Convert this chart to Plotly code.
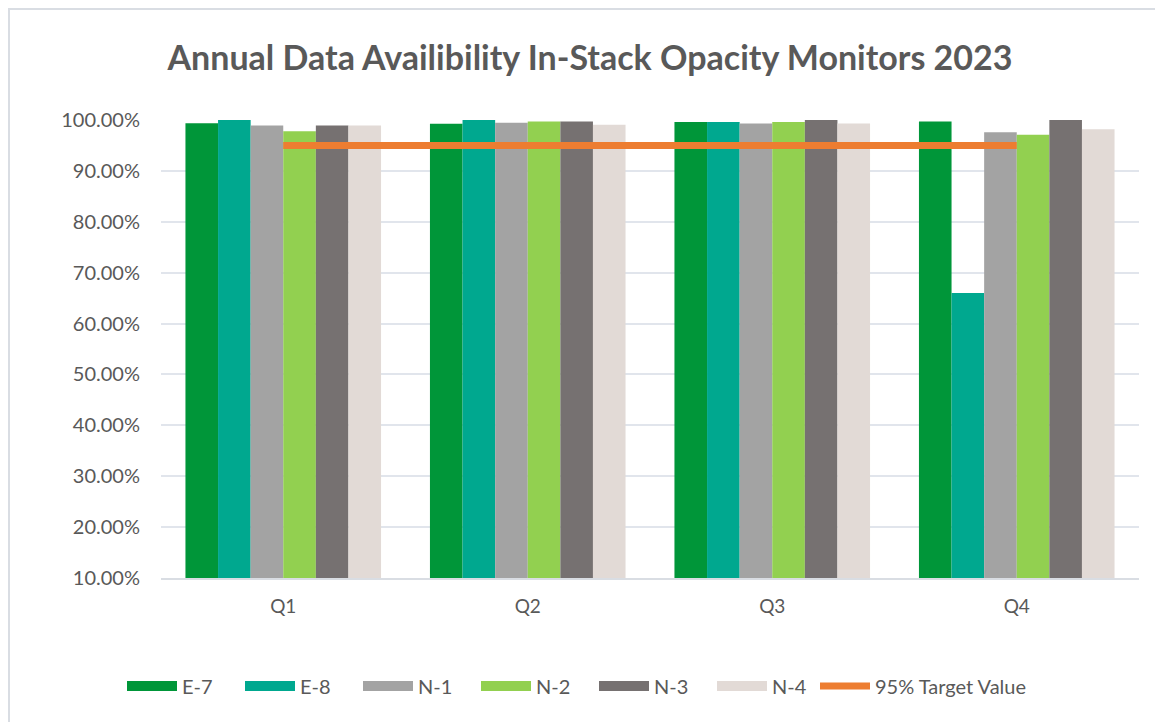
import plotly.graph_objects as go

quarters = ["Q1", "Q2", "Q3", "Q4"]
series_names = ["E-7", "E-8", "N-1", "N-2", "N-3", "N-4"]
e7 = [0.9935, 0.9925, 0.9960, 0.9970]
e8 = [1.0000, 1.0000, 0.9960, 0.6600]
n1 = [0.9890, 0.9945, 0.9930, 0.9760]
n2 = [0.9780, 0.9970, 0.9960, 0.9710]
n3 = [0.9890, 0.9970, 1.0000, 1.0000]
n4 = [0.9890, 0.9905, 0.9930, 0.9820]
target = [0.95, 0.95, 0.95, 0.95]
target_name = "95% Target Value"
y_ticks = [0.1, 0.2, 0.3, 0.4, 0.5, 0.6, 0.7, 0.8, 0.9, 1.0]

colors = ["#009639", "#00A88F", "#A3A3A3", "#92D050", "#767171", "#E2DAD6"]
values = [e7, e8, n1, n2, n3, n4]

fig = go.Figure()
for name, vals, col in zip(series_names, values, colors):
    fig.add_trace(go.Bar(
        x=quarters, y=vals, name=name, showlegend=False, legendgroup=name,
        marker=dict(color=col, line=dict(width=0)),
        hovertemplate="%{x}: %{y:.2%}<extra>" + name + "</extra>",
    ))

fig.add_trace(go.Scatter(
    x=quarters, y=target, name=target_name, mode="lines", showlegend=False,
    legendgroup="target",
    line=dict(color="#ED7D31", width=7),
))

# legend entries (rectangular swatches)
for name, col in zip(series_names, colors):
    fig.add_trace(go.Scatter(
        x=[None], y=[None], mode="lines", name=name, legendgroup=name,
        line=dict(color=col, width=14), legend="legend",
    ))
fig.add_trace(go.Scatter(
    x=[None], y=[None], mode="lines", name=target_name, legendgroup="target",
    line=dict(color="#ED7D31", width=7), legend="legend2",
))

font_family = "Lato, 'Open Sans', sans-serif"
legend_common = dict(
    orientation="h", xanchor="left", xref="container",
    y=1 - 678 / 722, yanchor="middle", yref="container",
    font=dict(size=20, color="#595959"),
    traceorder="normal", itemwidth=50,
)
fig.update_layout(
    width=1163, height=722,
    margin=dict(l=153, r=32, t=112, b=152),
    paper_bgcolor="white", plot_bgcolor="white",
    barmode="group", bargap=0.2, bargroupgap=0,
    title=dict(
        text="<b>Annual Data Availibility In-Stack Opacity Monitors 2023</b>",
        x=582 / 1163, xanchor="center", xref="container",
        y=1 - 50 / 722, yanchor="middle", yref="container",
        font=dict(family=font_family, size=34, color="#595959"),
    ),
    font=dict(family=font_family, color="#595959"),
    legend=dict(legend_common, x=114 / 1163,
                entrywidth=53, entrywidthmode="pixels"),
    legend2=dict(legend_common, x=807 / 1163),
    showlegend=True,
)
fig.update_xaxes(
    showgrid=False, showline=True, linecolor="#D9DDE3", linewidth=2,
    tickfont=dict(size=19, color="#595959"), ticks="",
    ticklabelstandoff=10,
)
fig.update_yaxes(
    range=[0.1, 1.0], tickvals=y_ticks, tickformat=".2%",
    showgrid=True, gridcolor="#E1E5EC", gridwidth=2,
    zeroline=False, showline=False,
    tickfont=dict(size=20, color="#595959"),
    ticklabelstandoff=20,
)
# outer chart border
fig.add_shape(
    type="rect", xref="paper", yref="paper",
    x0=(1 - 153) / 978, x1=(1175 - 153) / 978,
    y0=(570 - 735) / 458, y1=(570 - 1) / 458,
    line=dict(color="#D9DDE3", width=2), fillcolor="rgba(0,0,0,0)",
    layer="below",
)
fig.write_html("out.html")
